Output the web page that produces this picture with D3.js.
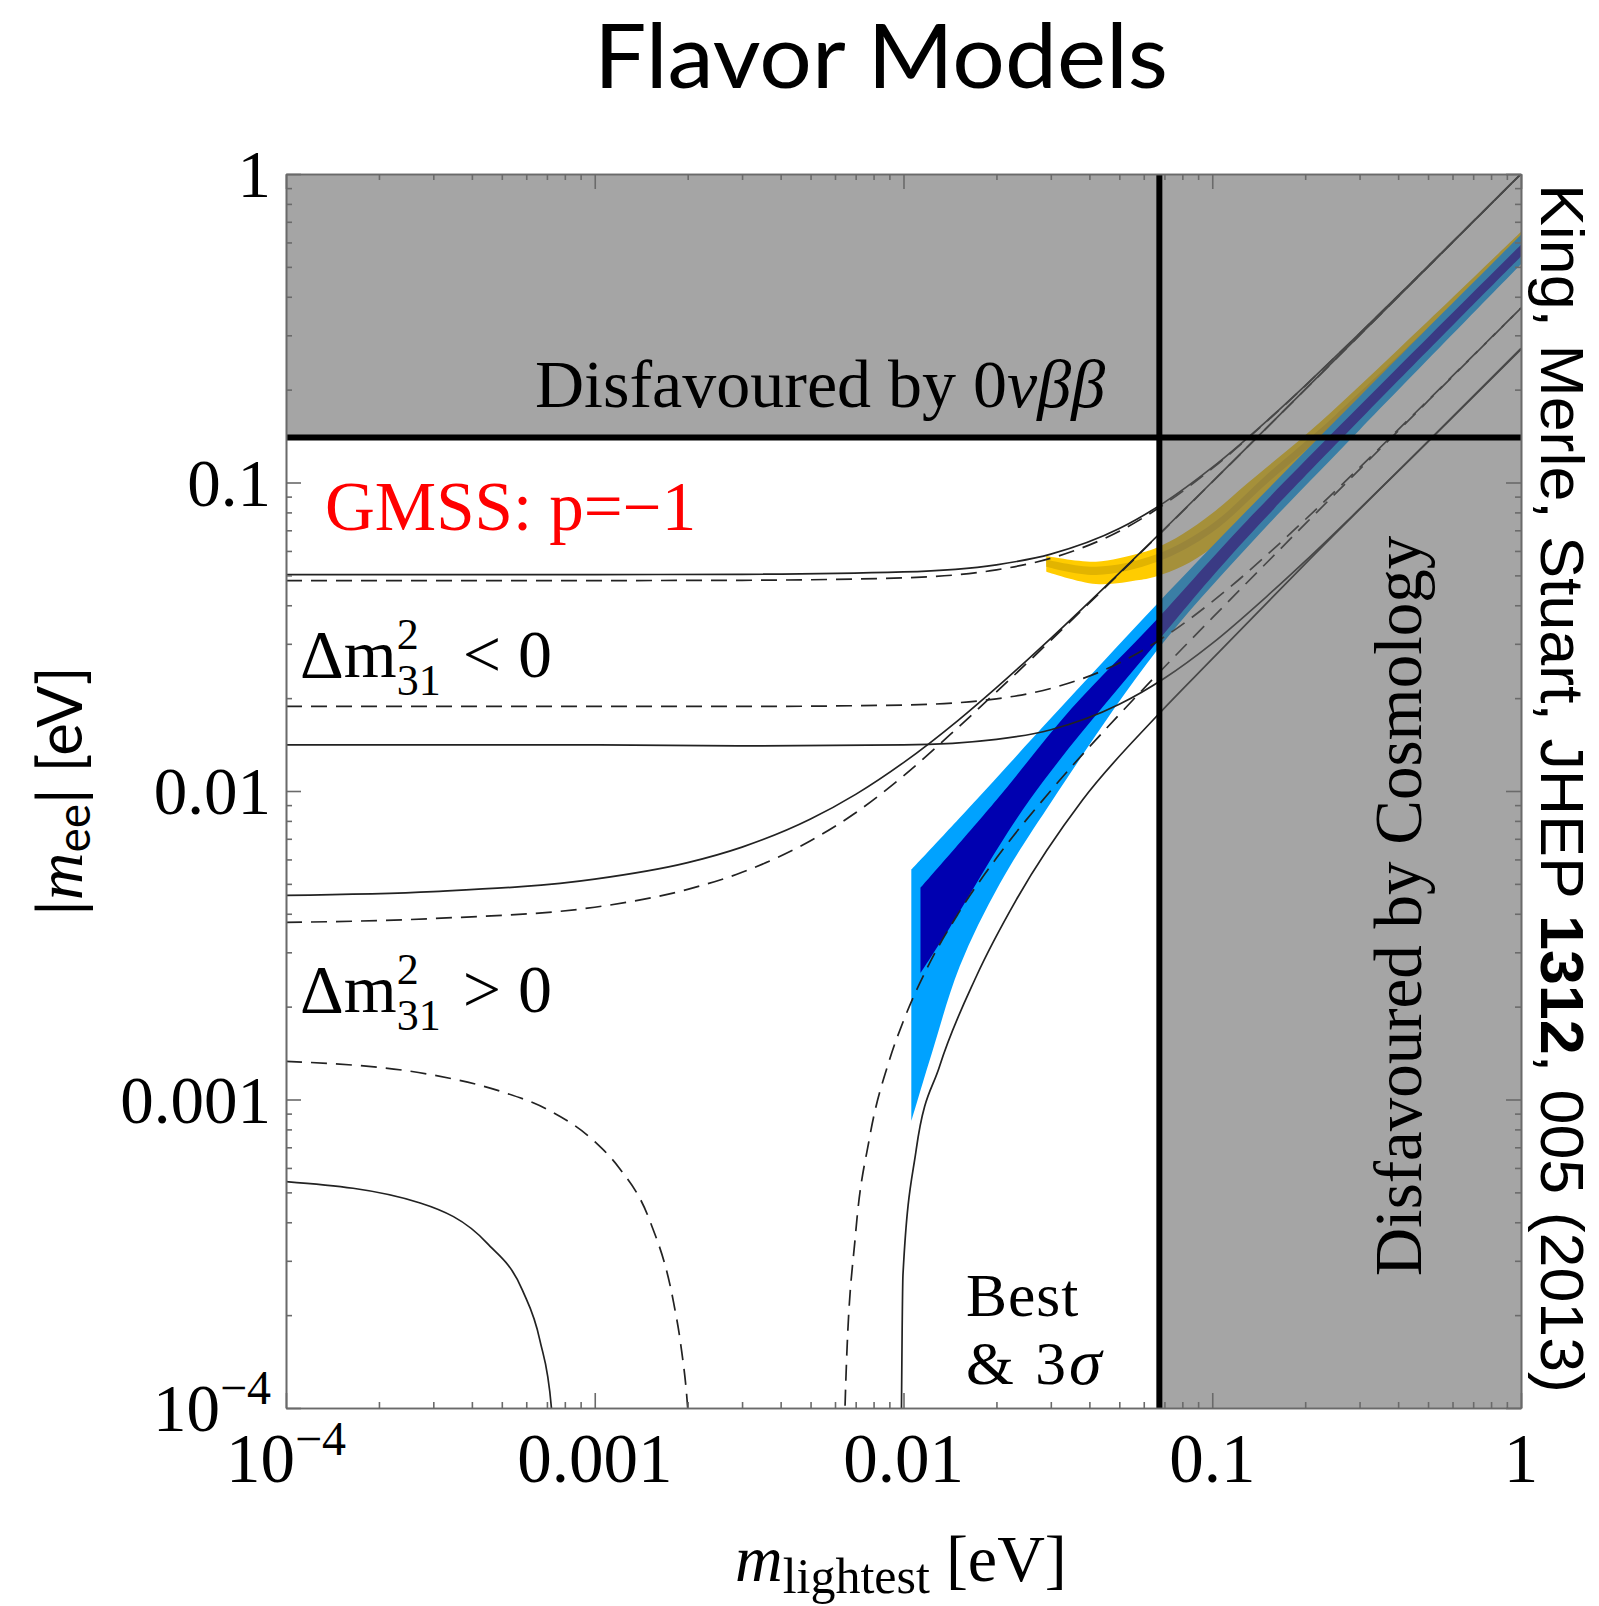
<!DOCTYPE html>
<html lang="en">
<head>
<meta charset="UTF-8">
<title>Flavor Models</title>
<script src="https://cdn.jsdelivr.net/npm/d3@7"></script>
<style>
  body { margin: 0; background: #fff; }
  svg { display: block; }
  .serif { font-family: "Liberation Serif", "DejaVu Serif", serif; }
  .sans { font-family: Lato, "Open Sans", sans-serif; }
  .sans2 { font-family: "Liberation Sans", "DejaVu Sans", sans-serif; }
</style>
</head>
<body>
<script>
// --- data (m_lightest and |m_ee| in eV) ---

// inverted ordering, common m grid
var ihGrid  = [1e-4, 0.001, 0.003, 0.01, 0.02, 0.03, 0.05, 0.07, 0.1, 0.15, 0.2, 0.3, 0.5, 1];
var ihMax3s = [0.0503, 0.0503, 0.0504, 0.0513, 0.0541, 0.0586, 0.0709, 0.0862, 0.1119, 0.1582, 0.2062, 0.3042, 0.5025, 1.0013];
var ihMaxBf = [0.0481, 0.0481, 0.0482, 0.0491, 0.0521, 0.0568, 0.0695, 0.0851, 0.1111, 0.1576, 0.2058, 0.3039, 0.5023, 1.001];
var ihMinBf = [0.0188, 0.0188, 0.0188, 0.0190, 0.0199, 0.0215, 0.0260, 0.0316, 0.0411, 0.0581, 0.0758, 0.1118, 0.1848, 0.368];
var ihMin3s = [0.0141, 0.0141, 0.0140, 0.0141, 0.0147, 0.0158, 0.0191, 0.0232, 0.0301, 0.0427, 0.0556, 0.0821, 0.1357, 0.2703];

// normal ordering, upper edges
var nhGrid  = [1e-4, 3e-4, 1e-3, 2e-3, 3e-3, 5e-3, 7e-3, 0.01, 0.015, 0.02, 0.03, 0.05, 0.07, 0.1, 0.2, 0.5, 1];
var nhMax3s = [0.00459, 0.00472, 0.00518, 0.00586, 0.00658, 0.00811, 0.00975, 0.01236, 0.01692, 0.02164, 0.03127, 0.05088, 0.07067, 0.1005, 0.2003, 0.5003, 1.0003];
var nhMaxBf = [0.00375, 0.00386, 0.0042, 0.0048, 0.00545, 0.0069, 0.0085, 0.0112, 0.01605, 0.02095, 0.0308, 0.05062, 0.07048, 0.10036, 0.2002, 0.5001, 1.0];

// normal ordering, lower edges (two branches each, they drop to zero in between)
var nhMinBfLeft  = [[1e-4, 0.00133], [3e-4, 0.0012], [5e-4, 0.00106], [7e-4, 0.00093], [1e-3, 0.00073], [1.2e-3, 0.0006], [1.5e-3, 0.00041], [1.8e-3, 0.00022], [1.9e-3, 0.00016], [2.0e-3, 0.0001], [2.05e-3, 0.000067]];
var nhMinBfRight = [[0.0064, 0.00007], [0.0065, 0.00012], [0.007, 0.00037], [0.00776, 0.00075], [0.009, 0.00134], [0.01, 0.0018], [0.012, 0.0027], [0.015, 0.00399], [0.02, 0.00606], [0.03, 0.01003], [0.05, 0.0177], [0.07, 0.02523], [0.1, 0.0364], [0.2, 0.0734], [0.5, 0.1838], [1, 0.3678]];
var nhMin3sLeft  = [[1e-4, 0.000542], [2.72e-4, 0.000462], [4.47e-4, 0.000343], [5.83e-4, 0.000241], [6.64e-4, 0.000166], [7.24e-4, 0.0001], [7.4e-4, 0.00007]];
var nhMin3sRight = [[0.00983, 0.00007], [0.00985, 0.0001], [0.0099, 0.00018], [0.00996, 0.00027], [0.011, 0.00069], [0.01308, 0.00128], [0.01719, 0.0025], [0.02316, 0.00443], [0.038, 0.00935], [0.0658, 0.0174], [0.1, 0.0268], [0.2, 0.0545], [0.5, 0.136], [1, 0.272]];

// model regions: upper and lower edges
var blue3s   = { hi: [[0.0106, 0.00555], [0.0172, 0.00935], [0.03, 0.0172], [0.0658, 0.0401], [0.13, 0.0814], [0.3, 0.19], [1, 0.635]],
                 lo: [[0.0106, 0.00085], [0.01245, 0.00145], [0.0152, 0.0027], [0.0205, 0.005], [0.0304, 0.00935], [0.0658, 0.0283], [0.13, 0.0618], [0.3, 0.148], [1, 0.51]] };
var blueBest = { hi: [[0.01135, 0.00485], [0.02, 0.00935], [0.035, 0.0185], [0.0658, 0.0358], [0.13, 0.0755], [1, 0.59]],
                 lo: [[0.01135, 0.00257], [0.0141, 0.0036], [0.0256, 0.00935], [0.0658, 0.0301], [0.13, 0.0664], [1, 0.54]] };
var gold3s   = { hi: [[0.029, 0.0578], [0.042, 0.0554], [0.058, 0.059], [0.066, 0.0615], [0.08, 0.068], [0.1, 0.0795], [0.13, 0.0995], [0.206, 0.146], [0.4, 0.27], [1, 0.65]],
                 lo: [[0.029, 0.0514], [0.042, 0.0469], [0.058, 0.0483], [0.066, 0.0497], [0.08, 0.0535], [0.1, 0.0615], [0.13, 0.0766], [0.251, 0.139], [0.5, 0.28], [1, 0.57]] };
var goldBest = { hi: [[0.029, 0.0563], [0.042, 0.0533], [0.066, 0.0585], [0.1, 0.0735], [0.15, 0.106], [0.25, 0.165], [1, 0.62]],
                 lo: [[0.029, 0.0533], [0.042, 0.0501], [0.066, 0.0552], [0.1, 0.069], [0.15, 0.099], [0.25, 0.155], [1, 0.6]] };

// excluded regions
var meeLimit = [0.14];      // 0vbb bound
var sumLimit = [0.0674];    // cosmology bound on m_lightest

var majorTicks = [1e-4, 1e-3, 1e-2, 1e-1, 1];
var tickBase   = ["10", "0.001", "0.01", "0.1", "1"];
var tickExp    = ["\u22124", "", "", "", ""];

// --- drawing ---
var svg = d3.select("body").append("svg")
    .attr("width", 1599)
    .attr("height", 1606);

var x = d3.scaleLog().domain([1e-4, 1]).range([286, 1521]);
var y = d3.scaleLog().domain([1e-4, 1]).range([1408, 174]);

svg.append("defs").append("clipPath").attr("id", "plot")
    .append("rect")
    .attr("x", x(1e-4)).attr("y", y(1))
    .attr("width", x(1) - x(1e-4)).attr("height", y(1e-4) - y(1));

var plot = svg.append("g").attr("clip-path", "url(#plot)");

var edge = d3.line()
    .x(function (d) { return x(d[0]); })
    .y(function (d) { return y(d[1]); })
    .curve(d3.curveCatmullRom.alpha(0.5));

function bandPath(b) {
    var top = edge(b.hi);
    var bottom = edge(b.lo.slice().reverse());
    return top + "L" + bottom.slice(1) + "Z";
}

plot.append("path").attr("d", bandPath(gold3s)).attr("fill", "#ffcc00");
plot.append("path").attr("d", bandPath(goldBest)).attr("fill", "#e2b400");
plot.append("path").attr("d", bandPath(blue3s)).attr("fill", "#00a2ff");
plot.append("path").attr("d", bandPath(blueBest)).attr("fill", "#0000b0");

var line = d3.line()
    .x(function (d) { return x(d[0]); })
    .y(function (d) { return y(d[1]); })
    .curve(d3.curveMonotoneX);

function zipGrid(grid, vals) {
    return grid.map(function (m, i) { return [m, vals[i]]; });
}

var curves = [
    { data: zipGrid(ihGrid, ihMax3s), dashed: false },
    { data: zipGrid(ihGrid, ihMaxBf), dashed: true },
    { data: zipGrid(ihGrid, ihMinBf), dashed: true },
    { data: zipGrid(ihGrid, ihMin3s), dashed: false },
    { data: zipGrid(nhGrid, nhMax3s), dashed: false },
    { data: zipGrid(nhGrid, nhMaxBf), dashed: true },
    { data: nhMinBfLeft, dashed: true },
    { data: nhMinBfRight, dashed: true },
    { data: nhMin3sLeft, dashed: false },
    { data: nhMin3sRight, dashed: false }
];

curves.forEach(function (c) {
    plot.append("path")
        .attr("d", line(c.data))
        .attr("fill", "none")
        .attr("stroke", "#222")
        .attr("stroke-width", 1.7)
        .attr("stroke-dasharray", c.dashed ? "16,9" : null);
});

// grey overlay for the disfavoured regions
var xl = x(1e-4), xr = x(1), yt = y(1), yb = y(1e-4);
var xc = x(sumLimit[0]), yc = y(meeLimit[0]);
svg.append("path")
    .attr("d", "M" + xl + "," + yt + "H" + xr + "V" + yb + "H" + xc + "V" + yc + "H" + xl + "Z")
    .attr("fill", "rgb(100,100,100)")
    .attr("fill-opacity", 0.58);

svg.append("line")
    .attr("x1", xl).attr("x2", xr).attr("y1", yc).attr("y2", yc)
    .attr("stroke", "#000").attr("stroke-width", 6);
svg.append("line")
    .attr("x1", xc).attr("x2", xc).attr("y1", yt).attr("y2", yb)
    .attr("stroke", "#000").attr("stroke-width", 6);

// frame and inward ticks on all four sides
var minorTicks = x.ticks().filter(function (v) { return majorTicks.indexOf(v) < 0; });

function ticks(axis, tr, vals, size) {
    var g = svg.append("g")
        .attr("transform", tr)
        .call(axis.tickValues(vals).tickSize(size).tickSizeOuter(0).tickFormat(""));
    g.selectAll("path, line").attr("stroke", "#6a6a6a").attr("stroke-width", 1.6);
}
ticks(d3.axisBottom(x), "translate(0," + yb + ")", majorTicks, -15);
ticks(d3.axisBottom(x), "translate(0," + yb + ")", minorTicks, -6);
ticks(d3.axisTop(x), "translate(0," + yt + ")", majorTicks, -15);
ticks(d3.axisTop(x), "translate(0," + yt + ")", minorTicks, -6);
ticks(d3.axisLeft(y), "translate(" + xl + ",0)", majorTicks, -15);
ticks(d3.axisLeft(y), "translate(" + xl + ",0)", minorTicks, -6);
ticks(d3.axisRight(y), "translate(" + xr + ",0)", majorTicks, -15);
ticks(d3.axisRight(y), "translate(" + xr + ",0)", minorTicks, -6);

// tick labels
majorTicks.forEach(function (v, i) {
    var tx = svg.append("text").attr("class", "serif")
        .attr("x", x(v)).attr("y", yb + 74)
        .attr("text-anchor", "middle")
        .style("font-size", "69px");
    tx.append("tspan").text(tickBase[i]);
    if (tickExp[i]) tx.append("tspan").attr("dy", -27).style("font-size", "48px").text(tickExp[i]);

    var ty = svg.append("text").attr("class", "serif")
        .attr("x", xl - 15).attr("y", y(v) + 23)
        .attr("text-anchor", "end")
        .style("font-size", "67px");
    ty.append("tspan").text(tickBase[i]);
    if (tickExp[i]) ty.append("tspan").attr("dy", -27).style("font-size", "48px").text(tickExp[i]);
});

// axis titles
var xt = svg.append("text").attr("class", "serif")
    .attr("x", 735).attr("y", 1581)
    .style("font-size", "66px");
xt.append("tspan").style("font-style", "italic").text("m");
xt.append("tspan").attr("dy", 12).style("font-size", "50px").text("lightest");
xt.append("tspan").attr("dy", -12).attr("dx", 16).text("[eV]");

var yt2 = svg.append("text").attr("class", "sans")
    .attr("transform", "translate(82,791) rotate(-90)")
    .attr("text-anchor", "middle")
    .style("font-size", "62px");
yt2.append("tspan").text("|");
yt2.append("tspan").attr("class", "serif").style("font-style", "italic").style("font-size", "66px").text("m");
yt2.append("tspan").attr("dy", 8).style("font-size", "46px").text("ee");
yt2.append("tspan").attr("dy", -8).text("| [eV]");

// title
svg.append("text").attr("class", "sans")
    .attr("x", 881).attr("y", 88)
    .attr("text-anchor", "middle")
    .attr("textLength", 574).attr("lengthAdjust", "spacingAndGlyphs")
    .style("font-size", "90px")
    .text("Flavor Models");

// region labels
var d0 = svg.append("text").attr("class", "serif")
    .attr("x", 820).attr("y", 407)
    .attr("text-anchor", "middle")
    .style("font-size", "68px");
d0.append("tspan").text("Disfavoured by 0");
d0.append("tspan").style("font-style", "italic").text("\u03bd\u03b2\u03b2");

svg.append("text").attr("class", "serif")
    .attr("transform", "translate(1421,906) rotate(-90)")
    .attr("text-anchor", "middle")
    .style("font-size", "67px")
    .text("Disfavoured by Cosmology");

var ref = svg.append("text").attr("class", "sans2")
    .attr("transform", "translate(1541,184) rotate(90)")
    .attr("textLength", 1209).attr("lengthAdjust", "spacingAndGlyphs")
    .style("font-size", "62px");
ref.append("tspan").text("King, Merle, Stuart, JHEP ");
ref.append("tspan").style("font-weight", "bold").text("1312");
ref.append("tspan").text(", 005 (2013)");

svg.append("text").attr("class", "serif")
    .attr("x", 325).attr("y", 530)
    .attr("fill", "#ff0000")
    .style("font-size", "69px")
    .text("GMSS: p=\u22121");

// Delta m^2_31 labels with stacked super/subscript
function deltaLabel(x0, base, rel) {
    var t1 = svg.append("text").attr("class", "serif")
        .attr("x", x0).attr("y", base)
        .style("font-size", "68px")
        .text("\u0394m");
    var w = t1.node().getComputedTextLength();
    svg.append("text").attr("class", "serif")
        .attr("x", x0 + w).attr("y", base - 28)
        .style("font-size", "44px").text("2");
    var t3 = svg.append("text").attr("class", "serif")
        .attr("x", x0 + w).attr("y", base + 18)
        .style("font-size", "44px").text("31");
    var w3 = t3.node().getComputedTextLength();
    svg.append("text").attr("class", "serif")
        .attr("x", x0 + w + w3 + 22).attr("y", base)
        .style("font-size", "68px")
        .text(rel + " 0");
}
deltaLabel(300, 677, "<");
deltaLabel(300, 1012, ">");

svg.append("text").attr("class", "serif")
    .attr("x", 966).attr("y", 1316)
    .style("font-size", "61.5px")
    .style("letter-spacing", "1px")
    .text("Best");
var b3 = svg.append("text").attr("class", "serif")
    .attr("x", 966).attr("y", 1384)
    .style("font-size", "61.5px")
    .style("letter-spacing", "3px");
b3.append("tspan").text("& 3");
b3.append("tspan").style("font-style", "italic").style("font-size", "66px").text("\u03c3");
</script>
</body>
</html>
